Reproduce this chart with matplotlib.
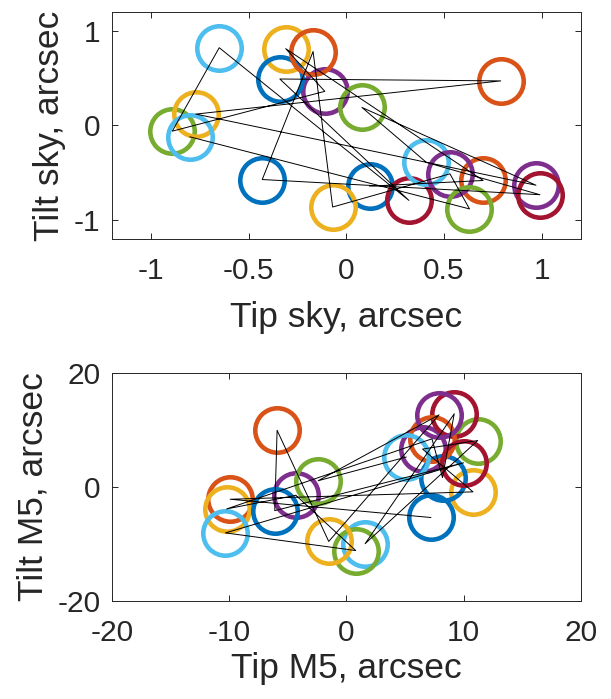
import matplotlib.pyplot as plt

# MATLAB default colour order, cycled once per point
colour_order = ["#0072BD", "#D95319", "#EDB120", "#7E2F8E",
                "#77AC30", "#4DBEEE", "#A2142F"]

# top panel: tip / tilt on sky (arcsec), in acquisition order
tip_sky = [0.12, 0.70, -0.31, -0.11, -0.89, -0.65, 0.32,
           -0.34, 0.79, -0.77, 0.97, 0.08, 0.41, 0.99,
           -0.43, -0.17, -0.07, 0.53, 0.63, -0.80]
tilt_sky = [-0.64, -0.58, 0.81, 0.36, -0.06, 0.82, -0.79,
            0.49, 0.47, 0.12, -0.63, 0.19, -0.39, -0.73,
            -0.57, 0.78, -0.86, -0.51, -0.88, -0.12]

# bottom panel: tip / tilt of M5 (arcsec)
tip_m5 = [7.2, -9.9, 10.8, 6.5, 11.2, 1.6, 9.2,
          8.2, 7.3, -10.2, -4.3, 0.8, -10.3, 10.0,
          -6.1, -5.9, -1.5, 7.9, -2.4, 5.1]
tilt_m5 = [-5.4, -2.2, -0.9, 6.6, 8.1, -10.0, 12.8,
           1.6, 8.4, -3.9, -1.5, -11.2, -8.1, 4.2,
           -4.2, 9.9, -9.6, 12.6, 1.05, 5.2]

sky_ticks_x = [-1, -0.5, 0, 0.5, 1]
sky_ticks_y = [-1, 0, 1]
m5_ticks_x = [-20, -10, 0, 10, 20]
m5_ticks_y = [-20, 0, 20]

plt.rcParams["font.family"] = ["Liberation Sans", "DejaVu Sans"]
axcol = "#262626"

fig = plt.figure(figsize=(6.11, 6.99), dpi=100)
ax1 = fig.add_axes([0.1828, 0.6577, 0.768, 0.3256])
ax2 = fig.add_axes([0.1828, 0.1406, 0.768, 0.3262])


def tiptilt(ax, x, y, lim, xt, yt, xlabel, ylabel, xlabelpad):
    for i in range(len(x)):
        ax.plot(x[i], y[i], "o", ms=32, mfc="none", mew=3.3,
                mec=colour_order[i % 7])
    ax.plot(x, y, "-", color="k", lw=0.7)
    ax.set_xlim(-lim, lim)
    ax.set_ylim(-lim, lim)
    ax.set_xticks(xt)
    ax.set_yticks(yt)
    ax.set_xticklabels([f"{v:g}" for v in xt])
    ax.set_yticklabels([f"{v:g}" for v in yt])
    ax.tick_params(direction="in", length=4, width=0.7, colors=axcol,
                   labelsize=21.5, top=True, right=True)
    ax.tick_params(axis="x", pad=13)
    ax.tick_params(axis="y", pad=8)
    for s in ax.spines.values():
        s.set_color(axcol)
        s.set_linewidth(0.7)
    ax.set_xlabel(xlabel, fontsize=25.5, color=axcol, labelpad=xlabelpad)
    ax.set_ylabel(ylabel, fontsize=25.5, color=axcol, labelpad=6)


tiptilt(ax1, tip_sky, tilt_sky, 1.2, sky_ticks_x, sky_ticks_y,
        "Tip sky, arcsec", "Tilt sky, arcsec", 11)
tiptilt(ax2, tip_m5, tilt_m5, 20, m5_ticks_x, m5_ticks_y,
        "Tip M5, arcsec", "Tilt M5, arcsec", 4)

fig.savefig("out.png", dpi=100)
